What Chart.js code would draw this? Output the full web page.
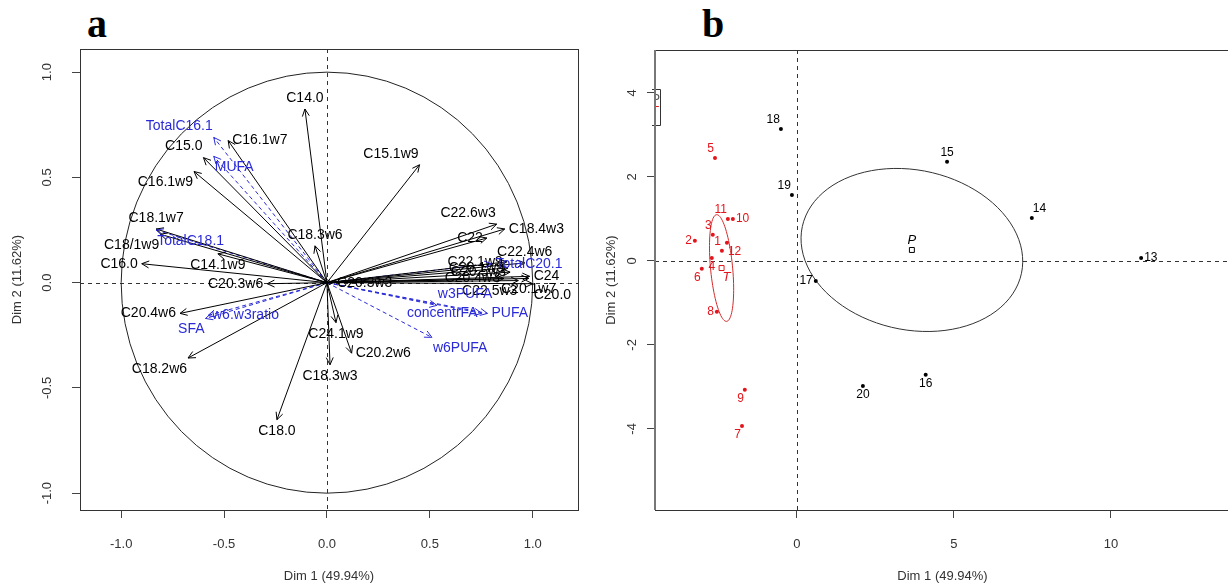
<!DOCTYPE html>
<html>
<head>
<meta charset="utf-8">
<title>PCA</title>
<script src="https://cdn.jsdelivr.net/npm/chart.js@4.4.1/dist/chart.umd.min.js"></script>
<style>
  body { margin:0; background:#fff; width:1228px; height:587px; overflow:hidden; position:relative; }
  .panel { position:absolute; top:0; }
  .tag { position:absolute; top:4px; font:bold 40px/40px "Liberation Serif","Times New Roman",serif; color:#000; }
</style>
</head>
<body>
<div class="tag" style="left:87px">a</div>
<div class="tag" style="left:702px">b</div>
<canvas id="chartA" class="panel" style="left:0" width="610" height="587"></canvas>
<canvas id="chartB" class="panel" style="left:600px" width="640" height="587"></canvas>
<script>
Chart.defaults.font.family = '"Liberation Sans", Arial, Helvetica, sans-serif';
Chart.defaults.color = '#333';

var BLUE = '#2a2ad8';
var RED = '#e3141b';

// ---- panel a : variables ----
var xTicksA = [-1, -0.5, 0, 0.5, 1];
var xTickLabelsA = ['-1.0', '-0.5', '0.0', '0.5', '1.0'];
var yTicksA = [-1, -0.5, 0, 0.5, 1];
var yTickLabelsA = ['-1.0', '-0.5', '0.0', '0.5', '1.0'];

var varNames = ['C14.0','C16.1w7','C15.0','C16.1w9','C18.1w7','C18/1w9','C16.0','C14.1w9','C18.3w6','C20.3w6',
  'C20.4w6','C18.2w6','C18.0','C18.3w3','C24.1w9','C20.2w6','C15.1w9','C22.6w3','C18.4w3','C22',
  'C22.1w9','C22.4w6','C20.1w9','C20.5w3','C20.4w3','C22.5w3','C20.1w7','C24','C20.0','C20.3w3',
  'TotalC16.1','MUFA','TotalC18.1','w6.w3ratio','SFA','w3PUFA','concentrFA','PUFA','w6PUFA','TotalC20.1'];
var varDim1 = [-0.107,-0.48,-0.60,-0.646,-0.83,-0.81,-0.90,-0.53,-0.058,-0.29,
  -0.714,-0.675,-0.243,0.015,0.044,0.12,0.45,0.825,0.864,0.777,
  0.874,0.961,0.88,0.89,0.86,0.93,0.98,0.985,1.0,0.03,
  -0.55,-0.55,-0.83,-0.578,-0.59,0.534,0.752,0.78,0.51,0.80];
var varDim2 = [0.825,0.675,0.594,0.528,0.255,0.23,0.09,0.137,0.175,-0.005,
  -0.146,-0.358,-0.651,-0.39,-0.19,-0.335,0.56,0.278,0.255,0.212,
  0.099,0.094,0.07,0.05,0.02,0.01,0.02,0.03,-0.005,0.0,
  0.69,0.60,0.25,-0.156,-0.17,-0.108,-0.146,-0.146,-0.26,0.09];
// 1 = supplementary variable (blue, dashed)
var varSupp = [0,0,0,0,0,0,0,0,0,0, 0,0,0,0,0,0,0,0,0,0, 0,0,0,0,0,0,0,0,0,0, 1,1,1,1,1,1,1,1,1,1];
// label side, R style: 1 below, 2 left, 3 above, 4 right, 5-8 diagonals
var varLabelPos = [3,4,7,6,3,6,2,1,3,2, 2,6,1,1,1,4,7,7,4,2, 2,3,2,2,2,6,1,4,5,4, 7,5,5,4,6,8,2,4,5,4];

// ---- panel b : individuals ----
var xTicksB = [0, 5, 10];
var xTickLabelsB = ['0', '5', '10'];
var yTicksB = [-4, -2, 0, 2, 4];
var yTickLabelsB = ['-4', '-2', '0', '2', '4'];

var indNames = ['1','2','3','4','5','6','7','8','9','10','11','12','13','14','15','16','17','18','19','20'];
var indDim1 = [-2.39,-3.25,-2.68,-2.71,-2.61,-3.03,-1.75,-2.55,-1.66,-2.04,-2.2,-2.23, 10.96,7.48,4.78,4.1,0.6,-0.51,-0.16,2.1];
var indDim2 = [0.24,0.48,0.62,0.07,2.45,-0.19,-3.93,-1.21,-3.07,1.0,1.0,0.43, 0.07,1.02,2.36,-2.71,-0.48,3.14,1.57,-2.98];
var indGroup = ['T','T','T','T','T','T','T','T','T','T','T','T','P','P','P','P','P','P','P','P'];
var indLabelPos = [7,2,7,1,7,6,6,2,6,4,7,5, 4,8,3,1,2,7,7,1];

var groupNames = ['T', 'P'];
var groupDim1 = [-2.40, 3.66];
var groupDim2 = [-0.17, 0.26];
var groupLabelPos = [5, 3];
// confidence ellipse semi-axis vectors (data units)
var ellU = [[-0.16, 1.27], [3.49, -0.555]];
var ellV = [[0.35, 0.024], [-0.53, -1.86]];

var groupColors = { T: RED, P: '#000' };

function placeText(ctx, txt, px, py, pos, d) {
  var s = {
    1: ['center', 'top', 0, d], 2: ['right', 'middle', -d, 0],
    3: ['center', 'bottom', 0, -d], 4: ['left', 'middle', d, 0],
    5: ['left', 'top', 1, d], 6: ['right', 'top', -1, d],
    7: ['right', 'bottom', -1, -d], 8: ['left', 'bottom', 1, -d]
  }[pos];
  ctx.textAlign = s[0];
  ctx.textBaseline = s[1];
  ctx.fillText(txt, px + s[2], py + s[3]);
}

// box, dashed zero lines, rotated y tick labels
var framePlugin = {
  id: 'frame',
  beforeDatasetsDraw: function(chart, args, opts) {
    var ctx = chart.ctx, a = chart.chartArea, x = chart.scales.x, y = chart.scales.y;
    var x0 = Math.round(x.getPixelForValue(0)) + 0.5, y0 = Math.round(y.getPixelForValue(0)) + 0.5;
    ctx.save();
    ctx.strokeStyle = '#333';
    ctx.lineWidth = 1;
    ctx.setLineDash([4, 4]);
    ctx.beginPath();
    ctx.moveTo(x0, a.top); ctx.lineTo(x0, a.bottom);
    ctx.moveTo(a.left, y0); ctx.lineTo(a.right, y0);
    ctx.stroke();
    ctx.restore();
  },
  afterDraw: function(chart, args, opts) {
    var ctx = chart.ctx, a = chart.chartArea, y = chart.scales.y;
    ctx.save();
    ctx.strokeStyle = '#333';
    ctx.lineWidth = 1;
    ctx.strokeRect(Math.round(a.left) + 0.5, Math.round(a.top) + 0.5, Math.round(a.right - a.left), Math.round(a.bottom - a.top));
    if (opts.leftColor) {
      ctx.strokeStyle = opts.leftColor;
      ctx.lineWidth = 2;
      ctx.beginPath(); ctx.moveTo(a.left, a.top); ctx.lineTo(a.left, a.bottom); ctx.stroke();
    }
    ctx.fillStyle = '#333';
    ctx.font = '13px "Liberation Sans", Arial, sans-serif';
    ctx.textAlign = 'center';
    ctx.textBaseline = 'middle';
    opts.ticks.forEach(function(v, i) {
      ctx.save();
      ctx.translate(opts.tickX, y.getPixelForValue(v));
      ctx.rotate(-Math.PI / 2);
      ctx.fillText(opts.labels[i], 0, 0);
      ctx.restore();
    });
    ctx.restore();
  }
};

var circlePlugin = {
  id: 'circle',
  beforeDatasetsDraw: function(chart) {
    var ctx = chart.ctx, x = chart.scales.x, y = chart.scales.y;
    var cx = x.getPixelForValue(0), cy = y.getPixelForValue(0);
    ctx.save();
    ctx.strokeStyle = '#222';
    ctx.lineWidth = 1;
    ctx.beginPath();
    ctx.ellipse(cx, cy, x.getPixelForValue(1) - cx, cy - y.getPixelForValue(1), 0, 0, 2 * Math.PI);
    ctx.stroke();
    ctx.restore();
  }
};

var arrowPlugin = {
  id: 'arrows',
  afterDatasetsDraw: function(chart) {
    var ctx = chart.ctx, x = chart.scales.x, y = chart.scales.y;
    var ox = x.getPixelForValue(0), oy = y.getPixelForValue(0);
    ctx.save();
    ctx.font = '14px "Liberation Sans", Arial, sans-serif';
    varNames.forEach(function(name, i) {
      var tx = x.getPixelForValue(varDim1[i]), ty = y.getPixelForValue(varDim2[i]);
      var col = varSupp[i] ? BLUE : '#000';
      var ang = Math.atan2(ty - oy, tx - ox);
      ctx.strokeStyle = col;
      ctx.lineWidth = 1;
      ctx.beginPath();
      ctx.moveTo(tx - 8 * Math.cos(ang - 0.45), ty - 8 * Math.sin(ang - 0.45));
      ctx.lineTo(tx, ty);
      ctx.lineTo(tx - 8 * Math.cos(ang + 0.45), ty - 8 * Math.sin(ang + 0.45));
      ctx.stroke();
      ctx.fillStyle = col;
      placeText(ctx, name, tx, ty, varLabelPos[i], 4);
    });
    ctx.restore();
  }
};

var ellipsePlugin = {
  id: 'ellipses',
  beforeDatasetsDraw: function(chart) {
    var ctx = chart.ctx, x = chart.scales.x, y = chart.scales.y;
    ctx.save();
    ctx.lineWidth = 1;
    groupNames.forEach(function(g, k) {
      ctx.strokeStyle = g === 'T' ? '#d42a2a' : '#333';
      ctx.beginPath();
      for (var s = 0; s <= 90; s++) {
        var t = s / 90 * 2 * Math.PI;
        var vx = groupDim1[k] + ellU[k][0] * Math.cos(t) + ellV[k][0] * Math.sin(t);
        var vy = groupDim2[k] + ellU[k][1] * Math.cos(t) + ellV[k][1] * Math.sin(t);
        var px = x.getPixelForValue(vx), py = y.getPixelForValue(vy);
        if (s === 0) ctx.moveTo(px, py); else ctx.lineTo(px, py);
      }
      ctx.stroke();
    });
    ctx.restore();
  },
  afterDatasetsDraw: function(chart) {
    var ctx = chart.ctx, x = chart.scales.x, y = chart.scales.y, a = chart.chartArea;
    ctx.save();
    ctx.font = '12px "Liberation Sans", Arial, sans-serif';
    indNames.forEach(function(n, i) {
      ctx.fillStyle = groupColors[indGroup[i]];
      placeText(ctx, n, x.getPixelForValue(indDim1[i]), y.getPixelForValue(indDim2[i]), indLabelPos[i], 3);
    });
    ctx.font = 'italic 13px "Liberation Sans", Arial, sans-serif';
    groupNames.forEach(function(g, k) {
      ctx.fillStyle = groupColors[g];
      placeText(ctx, g, x.getPixelForValue(groupDim1[k]), y.getPixelForValue(groupDim2[k]), groupLabelPos[k], 3);
    });
    // legend box, cut by the left edge of the plot
    ctx.strokeStyle = '#333';
    ctx.lineWidth = 1;
    ctx.beginPath();
    ctx.moveTo(a.left - 3, 89.5); ctx.lineTo(a.left + 5.5, 89.5); ctx.lineTo(a.left + 5.5, 125.5); ctx.lineTo(a.left - 3, 125.5);
    ctx.stroke();
    ctx.beginPath();
    ctx.rect(a.left + 1, 90, 4, 35);
    ctx.clip();
    ctx.font = '12px "Liberation Sans", Arial, sans-serif';
    ctx.textAlign = 'right';
    ctx.textBaseline = 'middle';
    ctx.fillStyle = '#555';
    ctx.fillText('P', a.left + 5, 100);
    ctx.fillStyle = RED;
    ctx.fillText('T', a.left + 4, 112);
    ctx.restore();
  }
};

function axisX(min, max, ticks, labels) {
  return {
    type: 'linear', min: min, max: max, bounds: 'data',
    afterBuildTicks: function(s) { s.ticks = ticks.map(function(v) { return { value: v }; }); },
    afterFit: function(s) { s.height = 77; },
    grid: { drawOnChartArea: false, drawTicks: true, tickLength: 8, tickColor: '#444' },
    border: { display: false },
    ticks: {
      autoSkip: false, maxRotation: 0, padding: 19, color: '#333', font: { size: 13 },
      callback: function(v, i) { return labels[i]; }
    },
    title: { display: true, text: 'Dim 1 (49.94%)', color: '#333', font: { size: 13 }, padding: { top: 0, bottom: 3 } }
  };
}

function axisY(min, max, ticks, width, titlePad) {
  return {
    type: 'linear', min: min, max: max, bounds: 'data',
    afterBuildTicks: function(s) { s.ticks = ticks.map(function(v) { return { value: v }; }); },
    afterFit: function(s) { s.width = width; },
    grid: { drawOnChartArea: false, drawTicks: true, tickLength: 8, tickColor: '#444' },
    border: { display: false },
    ticks: { display: false },
    title: { display: true, text: 'Dim 2 (11.62%)', color: '#333', font: { size: 13 }, padding: { top: titlePad, bottom: 0 } }
  };
}

var arrowSets = varNames.map(function(n, i) {
  return {
    label: n,
    data: [{ x: 0, y: 0 }, { x: varDim1[i], y: varDim2[i] }],
    showLine: true,
    pointRadius: 0,
    borderWidth: 1,
    borderColor: varSupp[i] ? BLUE : '#000',
    borderDash: varSupp[i] ? [4, 3] : []
  };
});

new Chart(document.getElementById('chartA'), {
  type: 'scatter',
  data: { datasets: arrowSets },
  options: {
    responsive: false,
    animation: false,
    layout: { padding: { left: 0, right: 32, top: 49, bottom: 0 } },
    scales: {
      x: axisX(-1.2, 1.22, xTicksA, xTickLabelsA),
      y: axisY(-1.08, 1.11, yTicksA, 80, 10)
    },
    plugins: {
      legend: { display: false },
      tooltip: { enabled: false },
      frame: { tickX: 47, ticks: yTicksA, labels: yTickLabelsA }
    }
  },
  plugins: [framePlugin, circlePlugin, arrowPlugin]
});

function groupPoints(g) {
  var out = [];
  indNames.forEach(function(n, i) { if (indGroup[i] === g) out.push({ x: indDim1[i], y: indDim2[i] }); });
  return out;
}

new Chart(document.getElementById('chartB'), {
  type: 'scatter',
  data: {
    datasets: [
      { label: 'T', data: groupPoints('T'), pointRadius: 2, pointBackgroundColor: RED, pointBorderWidth: 0 },
      { label: 'P', data: groupPoints('P'), pointRadius: 2, pointBackgroundColor: '#000', pointBorderWidth: 0 },
      {
        label: 'centres',
        data: groupNames.map(function(g, k) { return { x: groupDim1[k], y: groupDim2[k] }; }),
        pointStyle: 'rect', pointRadius: 3.5, pointBorderWidth: 1,
        pointBackgroundColor: '#fff',
        pointBorderColor: groupNames.map(function(g) { return groupColors[g]; })
      }
    ]
  },
  options: {
    responsive: false,
    animation: false,
    layout: { padding: { left: 0, right: 10, top: 50, bottom: 0 } },
    scales: {
      x: axisX(-4.52, 13.79, xTicksB, xTickLabelsB),
      y: axisY(-5.93, 5.02, yTicksB, 55, 4)
    },
    plugins: {
      legend: { display: false },
      tooltip: { enabled: false },
      frame: { tickX: 32, ticks: yTicksB, labels: yTickLabelsB, leftColor: '#777' }
    }
  },
  plugins: [framePlugin, ellipsePlugin]
});
</script>
</body>
</html>
